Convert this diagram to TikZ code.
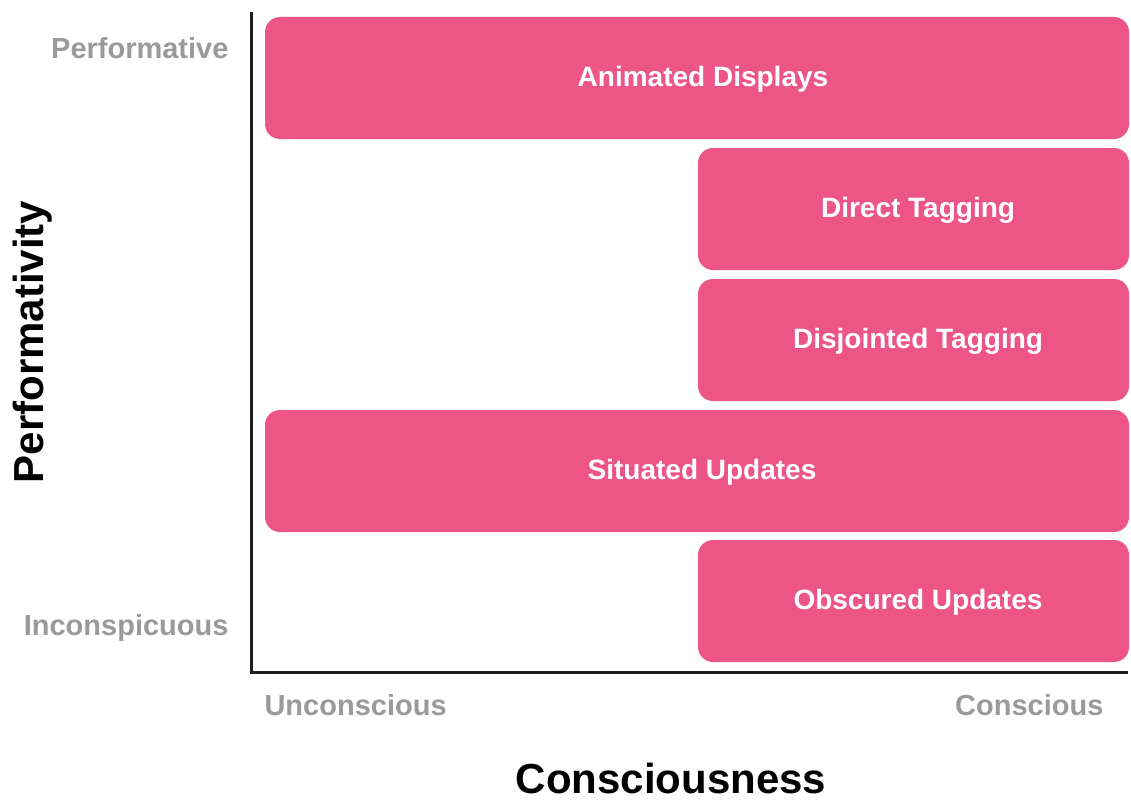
\documentclass[tikz,border=0pt]{standalone}
\usepackage{fontspec}
\setmainfont{Liberation Sans}
\definecolor{boxpink}{HTML}{EC5586}
\definecolor{labgray}{HTML}{9A9A9A}
\definecolor{axisdark}{HTML}{1E1E1E}
\begin{document}
\begin{tikzpicture}[x=1pt,y=-1pt,
  bar/.style={fill=boxpink, draw=none, rounded corners=15pt},
  bartext/.style={text=white, font=\fontsize{28}{33}\selectfont\bfseries},
  endlabel/.style={text=labgray, font=\fontsize{29}{34}\selectfont\bfseries},
  axtitle/.style={text=black, font=\fontsize{42}{50}\selectfont\bfseries},
  axisline/.style={draw=axisdark, line width=3pt}]
\useasboundingbox (0,0) rectangle (1131,800);
% bars
\path[bar] (265,17) rectangle (1129,139);
\node[bartext] (anim) at (703,79) {Animated Displays};
\path[bar] (698,148) rectangle (1129,270);
\node[bartext] (direct) at (918,210) {Direct Tagging};
\path[bar] (698,279) rectangle (1129,401);
\node[bartext] (disj) at (918,341) {Disjointed Tagging};
\path[bar] (265,410) rectangle (1129,532);
\node[bartext] (sit) at (702,472) {Situated Updates};
\path[bar] (698,540) rectangle (1129,662);
\node[bartext] (obs) at (918,602) {Obscured Updates};
% axes
\coordinate (top) at (251,12);
\coordinate (origin) at (251,672);
\coordinate (right) at (1128,672);
\draw[axisline] (top) -- (origin) -- (right);
% labels
\node[endlabel, anchor=east] (perf) at (232,48) {Performative};
\node[endlabel, anchor=east] (inc) at (232,628) {Inconspicuous};
\node[endlabel, anchor=west] (uncon) at (261,705) {Unconscious};
\node[endlabel, anchor=east] (con) at (1107,705) {Conscious};
\node[axtitle, rotate=90] (ytitle) at (33,342) {Performativity};
\node[axtitle, anchor=base] (xtitle) at (671,793) {Consciousness};
\end{tikzpicture}
\end{document}
